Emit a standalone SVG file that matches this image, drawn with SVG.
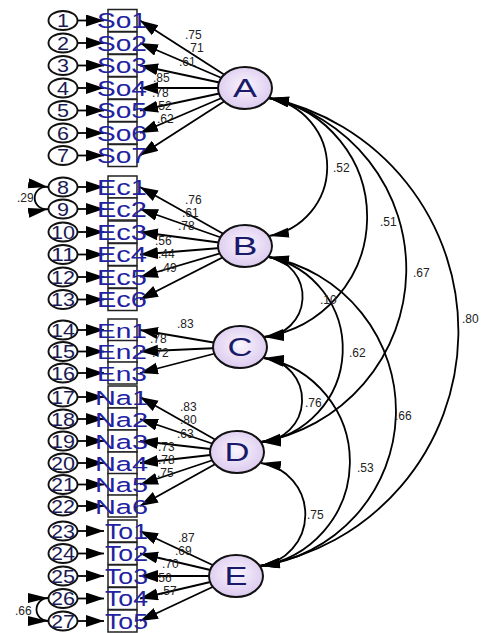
<svg xmlns="http://www.w3.org/2000/svg" width="485" height="633" viewBox="0 0 485 633">
<defs>
<radialGradient id="lg" cx="50%" cy="45%" r="60%">
<stop offset="0" stop-color="#faf5fd"/>
<stop offset="1" stop-color="#d9c6ee"/>
</radialGradient>
<marker id="ah" markerUnits="userSpaceOnUse" markerWidth="19" markerHeight="13" refX="18" refY="6" orient="auto"><path d="M0,0 L18,6 L0,12 z" fill="#000"/></marker>
<marker id="ch" markerUnits="userSpaceOnUse" markerWidth="21" markerHeight="11" refX="20" refY="5" orient="auto-start-reverse"><path d="M0,0 L20,5 L0,10 z" fill="#000"/></marker>
<style>
.c line,.c path{stroke:#000;stroke-width:1.8;fill:none}
.c line{marker-end:url(#ah)}
.c path{marker-start:url(#ch);marker-end:url(#ch)}
.err ellipse{fill:#fff;stroke:#111;stroke-width:1.9}
.err text{font-family:"Liberation Sans",Arial,sans-serif;font-size:19px;fill:#1a1a55;text-anchor:middle}
.ind rect{fill:#fff;stroke:#222;stroke-width:1.5}
.ind text{font-family:"Liberation Sans",Arial,sans-serif;font-size:21.5px;fill:#2222a0}
.ind text.n{font-size:20.5px}
.lat ellipse{fill:url(#lg);stroke:#111;stroke-width:2}
.lat text{font-family:"Liberation Sans",Arial,sans-serif;font-size:25px;fill:#1a1a6a;text-anchor:middle}
.lb text{font-family:"Liberation Sans",Arial,sans-serif;font-size:12px;fill:#222}
</style>
</defs>
<rect width="485" height="633" fill="#fff"/>
<g id="connectors" class="c">
<line x1="77" y1="20.5" x2="104" y2="20.5"/>
<line x1="77" y1="43" x2="104" y2="43"/>
<line x1="77" y1="65.5" x2="104" y2="65.5"/>
<line x1="77" y1="88" x2="104" y2="88"/>
<line x1="77" y1="110.5" x2="104" y2="110.5"/>
<line x1="77" y1="133" x2="104" y2="133"/>
<line x1="77" y1="155.5" x2="104" y2="155.5"/>
<line x1="77" y1="187" x2="104" y2="187"/>
<line x1="77" y1="209" x2="104" y2="209"/>
<line x1="77" y1="232" x2="104" y2="232"/>
<line x1="77" y1="254.5" x2="104" y2="254.5"/>
<line x1="77" y1="277" x2="104" y2="277"/>
<line x1="77" y1="299.5" x2="104" y2="299.5"/>
<line x1="77" y1="330" x2="104" y2="330"/>
<line x1="77" y1="351.5" x2="104" y2="351.5"/>
<line x1="77" y1="373" x2="104" y2="373"/>
<line x1="77" y1="397" x2="104" y2="397"/>
<line x1="77" y1="419" x2="104" y2="419"/>
<line x1="77" y1="441" x2="104" y2="441"/>
<line x1="77" y1="463" x2="104" y2="463"/>
<line x1="77" y1="484.5" x2="104" y2="484.5"/>
<line x1="77" y1="506" x2="104" y2="506"/>
<line x1="77" y1="531" x2="104" y2="531"/>
<line x1="77" y1="553.5" x2="104" y2="553.5"/>
<line x1="77" y1="576" x2="104" y2="576"/>
<line x1="77" y1="598.5" x2="104" y2="598.5"/>
<line x1="77" y1="621" x2="104" y2="621"/>
<line x1="245" y1="88" x2="140" y2="20.5"/>
<line x1="245" y1="88" x2="140" y2="43"/>
<line x1="245" y1="88" x2="140" y2="65.5"/>
<line x1="245" y1="88" x2="140" y2="88"/>
<line x1="245" y1="88" x2="140" y2="110.5"/>
<line x1="245" y1="88" x2="140" y2="133"/>
<line x1="245" y1="88" x2="140" y2="155.5"/>
<line x1="245" y1="246" x2="140" y2="187"/>
<line x1="245" y1="246" x2="140" y2="209"/>
<line x1="245" y1="246" x2="140" y2="232"/>
<line x1="245" y1="246" x2="140" y2="254.5"/>
<line x1="245" y1="246" x2="140" y2="277"/>
<line x1="245" y1="246" x2="140" y2="299.5"/>
<line x1="240" y1="347" x2="140" y2="330"/>
<line x1="240" y1="347" x2="140" y2="351.5"/>
<line x1="240" y1="347" x2="140" y2="373"/>
<line x1="237" y1="452" x2="140" y2="397"/>
<line x1="237" y1="452" x2="140" y2="419"/>
<line x1="237" y1="452" x2="140" y2="441"/>
<line x1="237" y1="452" x2="140" y2="463"/>
<line x1="237" y1="452" x2="140" y2="484.5"/>
<line x1="237" y1="452" x2="140" y2="506"/>
<line x1="236" y1="576" x2="140" y2="531"/>
<line x1="236" y1="576" x2="140" y2="553.5"/>
<line x1="236" y1="576" x2="140" y2="576"/>
<line x1="236" y1="576" x2="140" y2="598.5"/>
<line x1="236" y1="576" x2="140" y2="621"/>
<path d="M269,98 A70,70 0 0 1 269,236"/>
<path d="M269,98 A121.3,121.3 0 0 1 264,337"/>
<path d="M269,98 A175.4,175.4 0 0 1 261,442"/>
<path d="M269,98 A238.2,238.2 0 0 1 260,566"/>
<path d="M269,257 A40.3,40.3 0 0 1 264,337"/>
<path d="M269,257 A94,94 0 0 1 261,442"/>
<path d="M269,257 A156.6,156.6 0 0 1 260,566"/>
<path d="M264,358 A42.1,42.1 0 0 1 261,442"/>
<path d="M264,358 A105.5,105.5 0 0 1 260,566"/>
<path d="M261,463 A52,52 0 0 1 260,566"/>
<path d="M48,187 A11.2,11.2 0 1 0 48,209"/>
<path d="M48,598 A11.5,11.5 0 1 0 48,621"/>
</g>
<g id="e1" class="err"><ellipse cx="63" cy="20.5" rx="14.5" ry="9.5"/><text x="63" y="27" textLength="12" lengthAdjust="spacingAndGlyphs">1</text></g>
<g id="e2" class="err"><ellipse cx="63" cy="43" rx="14.5" ry="9.5"/><text x="63" y="49.5" textLength="12" lengthAdjust="spacingAndGlyphs">2</text></g>
<g id="e3" class="err"><ellipse cx="63" cy="65.5" rx="14.5" ry="9.5"/><text x="63" y="72" textLength="12" lengthAdjust="spacingAndGlyphs">3</text></g>
<g id="e4" class="err"><ellipse cx="63" cy="88" rx="14.5" ry="9.5"/><text x="63" y="94.5" textLength="12" lengthAdjust="spacingAndGlyphs">4</text></g>
<g id="e5" class="err"><ellipse cx="63" cy="110.5" rx="14.5" ry="9.5"/><text x="63" y="117" textLength="12" lengthAdjust="spacingAndGlyphs">5</text></g>
<g id="e6" class="err"><ellipse cx="63" cy="133" rx="14.5" ry="9.5"/><text x="63" y="139.5" textLength="12" lengthAdjust="spacingAndGlyphs">6</text></g>
<g id="e7" class="err"><ellipse cx="63" cy="155.5" rx="14.5" ry="9.5"/><text x="63" y="162" textLength="12" lengthAdjust="spacingAndGlyphs">7</text></g>
<g id="e8" class="err"><ellipse cx="63" cy="187" rx="14.5" ry="9.5"/><text x="63" y="193.5" textLength="12" lengthAdjust="spacingAndGlyphs">8</text></g>
<g id="e9" class="err"><ellipse cx="63" cy="209" rx="14.5" ry="9.5"/><text x="63" y="215.5" textLength="12" lengthAdjust="spacingAndGlyphs">9</text></g>
<g id="e10" class="err"><ellipse cx="63" cy="232" rx="14.5" ry="9.5"/><text x="63" y="238.5" textLength="24" lengthAdjust="spacingAndGlyphs">10</text></g>
<g id="e11" class="err"><ellipse cx="63" cy="254.5" rx="14.5" ry="9.5"/><text x="63" y="261" textLength="24" lengthAdjust="spacingAndGlyphs">11</text></g>
<g id="e12" class="err"><ellipse cx="63" cy="277" rx="14.5" ry="9.5"/><text x="63" y="283.5" textLength="24" lengthAdjust="spacingAndGlyphs">12</text></g>
<g id="e13" class="err"><ellipse cx="63" cy="299.5" rx="14.5" ry="9.5"/><text x="63" y="306" textLength="24" lengthAdjust="spacingAndGlyphs">13</text></g>
<g id="e14" class="err"><ellipse cx="63" cy="330" rx="14.5" ry="9.5"/><text x="63" y="336.5" textLength="24" lengthAdjust="spacingAndGlyphs">14</text></g>
<g id="e15" class="err"><ellipse cx="63" cy="351.5" rx="14.5" ry="9.5"/><text x="63" y="358" textLength="24" lengthAdjust="spacingAndGlyphs">15</text></g>
<g id="e16" class="err"><ellipse cx="63" cy="373" rx="14.5" ry="9.5"/><text x="63" y="379.5" textLength="24" lengthAdjust="spacingAndGlyphs">16</text></g>
<g id="e17" class="err"><ellipse cx="63" cy="397" rx="14.5" ry="9.5"/><text x="63" y="403.5" textLength="24" lengthAdjust="spacingAndGlyphs">17</text></g>
<g id="e18" class="err"><ellipse cx="63" cy="419" rx="14.5" ry="9.5"/><text x="63" y="425.5" textLength="24" lengthAdjust="spacingAndGlyphs">18</text></g>
<g id="e19" class="err"><ellipse cx="63" cy="441" rx="14.5" ry="9.5"/><text x="63" y="447.5" textLength="24" lengthAdjust="spacingAndGlyphs">19</text></g>
<g id="e20" class="err"><ellipse cx="63" cy="463" rx="14.5" ry="9.5"/><text x="63" y="469.5" textLength="24" lengthAdjust="spacingAndGlyphs">20</text></g>
<g id="e21" class="err"><ellipse cx="63" cy="484.5" rx="14.5" ry="9.5"/><text x="63" y="491" textLength="24" lengthAdjust="spacingAndGlyphs">21</text></g>
<g id="e22" class="err"><ellipse cx="63" cy="506" rx="14.5" ry="9.5"/><text x="63" y="512.5" textLength="24" lengthAdjust="spacingAndGlyphs">22</text></g>
<g id="e23" class="err"><ellipse cx="63" cy="531" rx="14.5" ry="9.5"/><text x="63" y="537.5" textLength="24" lengthAdjust="spacingAndGlyphs">23</text></g>
<g id="e24" class="err"><ellipse cx="63" cy="553.5" rx="14.5" ry="9.5"/><text x="63" y="560" textLength="24" lengthAdjust="spacingAndGlyphs">24</text></g>
<g id="e25" class="err"><ellipse cx="63" cy="576" rx="14.5" ry="9.5"/><text x="63" y="582.5" textLength="24" lengthAdjust="spacingAndGlyphs">25</text></g>
<g id="e26" class="err"><ellipse cx="63" cy="598.5" rx="14.5" ry="9.5"/><text x="63" y="605" textLength="24" lengthAdjust="spacingAndGlyphs">26</text></g>
<g id="e27" class="err"><ellipse cx="63" cy="621" rx="14.5" ry="9.5"/><text x="63" y="627.5" textLength="24" lengthAdjust="spacingAndGlyphs">27</text></g>
<g id="So1" class="ind"><rect x="108" y="9.5" width="29" height="22"/><text x="97" y="28" textLength="50" lengthAdjust="spacingAndGlyphs">So1</text></g>
<g id="So2" class="ind"><rect x="108" y="32" width="29" height="22"/><text x="97" y="50.5" textLength="50" lengthAdjust="spacingAndGlyphs">So2</text></g>
<g id="So3" class="ind"><rect x="108" y="54.5" width="29" height="22"/><text x="97" y="73" textLength="50" lengthAdjust="spacingAndGlyphs">So3</text></g>
<g id="So4" class="ind"><rect x="108" y="77" width="29" height="22"/><text x="97" y="95.5" textLength="50" lengthAdjust="spacingAndGlyphs">So4</text></g>
<g id="So5" class="ind"><rect x="108" y="99.5" width="29" height="22"/><text x="97" y="118" textLength="50" lengthAdjust="spacingAndGlyphs">So5</text></g>
<g id="So6" class="ind"><rect x="108" y="122" width="29" height="22"/><text x="97" y="140.5" textLength="50" lengthAdjust="spacingAndGlyphs">So6</text></g>
<g id="So7" class="ind"><rect x="108" y="144.5" width="29" height="22"/><text x="97" y="163" textLength="50" lengthAdjust="spacingAndGlyphs">So7</text></g>
<g id="Ec1" class="ind"><rect x="108" y="176" width="29" height="22"/><text x="97" y="194.5" textLength="50" lengthAdjust="spacingAndGlyphs">Ec1</text></g>
<g id="Ec2" class="ind"><rect x="108" y="198" width="29" height="22"/><text x="97" y="216.5" textLength="50" lengthAdjust="spacingAndGlyphs">Ec2</text></g>
<g id="Ec3" class="ind"><rect x="108" y="221" width="29" height="22"/><text x="97" y="239.5" textLength="50" lengthAdjust="spacingAndGlyphs">Ec3</text></g>
<g id="Ec4" class="ind"><rect x="108" y="243.5" width="29" height="22"/><text x="97" y="262" textLength="50" lengthAdjust="spacingAndGlyphs">Ec4</text></g>
<g id="Ec5" class="ind"><rect x="108" y="266" width="29" height="22"/><text x="97" y="284.5" textLength="50" lengthAdjust="spacingAndGlyphs">Ec5</text></g>
<g id="Ec6" class="ind"><rect x="108" y="288.5" width="29" height="22"/><text x="97" y="307" textLength="50" lengthAdjust="spacingAndGlyphs">Ec6</text></g>
<g id="En1" class="ind"><rect x="108" y="319" width="29" height="22"/><text class="n" x="97" y="337.5" textLength="50" lengthAdjust="spacingAndGlyphs">En1</text></g>
<g id="En2" class="ind"><rect x="108" y="340.5" width="29" height="22"/><text class="n" x="97" y="359" textLength="50" lengthAdjust="spacingAndGlyphs">En2</text></g>
<g id="En3" class="ind"><rect x="108" y="362" width="29" height="22"/><text class="n" x="97" y="380.5" textLength="50" lengthAdjust="spacingAndGlyphs">En3</text></g>
<g id="Na1" class="ind"><rect x="108" y="386" width="29" height="22"/><text class="n" x="95" y="404.5" textLength="53" lengthAdjust="spacingAndGlyphs">Na1</text></g>
<g id="Na2" class="ind"><rect x="108" y="408" width="29" height="22"/><text class="n" x="95" y="426.5" textLength="53" lengthAdjust="spacingAndGlyphs">Na2</text></g>
<g id="Na3" class="ind"><rect x="108" y="430" width="29" height="22"/><text class="n" x="95" y="448.5" textLength="53" lengthAdjust="spacingAndGlyphs">Na3</text></g>
<g id="Na4" class="ind"><rect x="108" y="452" width="29" height="22"/><text class="n" x="95" y="470.5" textLength="53" lengthAdjust="spacingAndGlyphs">Na4</text></g>
<g id="Na5" class="ind"><rect x="108" y="473.5" width="29" height="22"/><text class="n" x="95" y="492" textLength="53" lengthAdjust="spacingAndGlyphs">Na5</text></g>
<g id="Na6" class="ind"><rect x="108" y="495" width="29" height="22"/><text class="n" x="95" y="513.5" textLength="53" lengthAdjust="spacingAndGlyphs">Na6</text></g>
<g id="To1" class="ind"><rect x="108" y="520" width="29" height="22"/><text x="105" y="538.5" textLength="43" lengthAdjust="spacingAndGlyphs">To1</text></g>
<g id="To2" class="ind"><rect x="108" y="542.5" width="29" height="22"/><text x="105" y="561" textLength="43" lengthAdjust="spacingAndGlyphs">To2</text></g>
<g id="To3" class="ind"><rect x="108" y="565" width="29" height="22"/><text x="105" y="583.5" textLength="43" lengthAdjust="spacingAndGlyphs">To3</text></g>
<g id="To4" class="ind"><rect x="108" y="587.5" width="29" height="22"/><text x="105" y="606" textLength="43" lengthAdjust="spacingAndGlyphs">To4</text></g>
<g id="To5" class="ind"><rect x="108" y="610" width="29" height="22"/><text x="105" y="628.5" textLength="43" lengthAdjust="spacingAndGlyphs">To5</text></g>
<g id="A" class="lat"><ellipse cx="245" cy="88" rx="27" ry="21"/><text x="245" y="97" textLength="24" lengthAdjust="spacingAndGlyphs">A</text></g>
<g id="B" class="lat"><ellipse cx="245" cy="246" rx="27" ry="21"/><text x="245" y="255" textLength="25" lengthAdjust="spacingAndGlyphs">B</text></g>
<g id="C" class="lat"><ellipse cx="240" cy="347" rx="27" ry="21"/><text x="240" y="356" textLength="25" lengthAdjust="spacingAndGlyphs">C</text></g>
<g id="D" class="lat"><ellipse cx="237" cy="452" rx="27" ry="21"/><text x="237" y="461" textLength="25" lengthAdjust="spacingAndGlyphs">D</text></g>
<g id="E" class="lat"><ellipse cx="236" cy="576" rx="27" ry="21"/><text x="236" y="585" textLength="23" lengthAdjust="spacingAndGlyphs">E</text></g>
<g id="labels" class="lb">
<text x="185" y="38.5">.75</text>
<text x="187" y="52">.71</text>
<text x="179" y="66">.61</text>
<text x="153" y="82">.85</text>
<text x="152" y="97">.78</text>
<text x="155" y="110">.52</text>
<text x="157" y="123">.62</text>
<text x="185" y="204">.76</text>
<text x="182" y="217">.61</text>
<text x="178" y="230">.78</text>
<text x="155" y="245">.56</text>
<text x="158" y="258">.44</text>
<text x="160" y="272">.49</text>
<text x="177" y="328">.83</text>
<text x="150" y="343">.78</text>
<text x="152" y="357">.72</text>
<text x="180" y="410.5">.83</text>
<text x="180" y="424">.80</text>
<text x="177" y="437.5">.63</text>
<text x="158" y="451">.73</text>
<text x="158" y="464">.78</text>
<text x="157" y="477">.75</text>
<text x="178" y="542">.87</text>
<text x="175" y="555">.69</text>
<text x="162" y="568">.70</text>
<text x="155" y="582">.56</text>
<text x="160" y="595">.57</text>
<text x="17" y="202">.29</text>
<text x="15" y="615">.66</text>
<text x="333" y="172">.52</text>
<text x="380" y="226">.51</text>
<text x="413" y="277">.67</text>
<text x="462" y="323">.80</text>
<text x="320" y="304">.10</text>
<text x="349" y="357">.62</text>
<text x="395" y="420">.66</text>
<text x="305" y="407">.76</text>
<text x="357" y="472">.53</text>
<text x="307" y="519">.75</text>
</g>
</svg>
